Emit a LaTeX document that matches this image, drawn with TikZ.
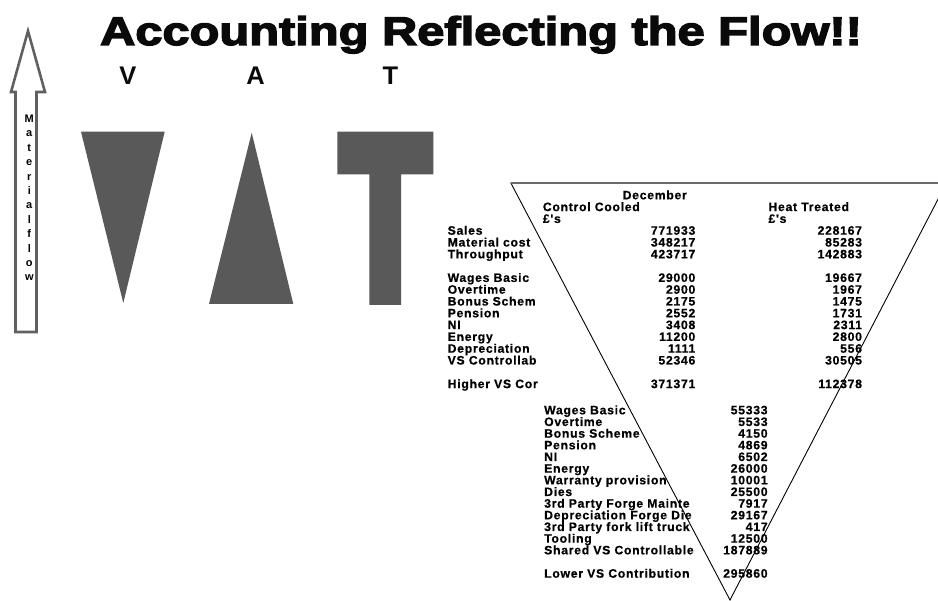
\documentclass[tikz,border=0pt]{standalone}
\usepackage{fontspec}
\setmainfont{Liberation Sans}
\newfontfamily\tabfont{Liberation Sans}[LetterSpace=6, BoldFeatures={FakeBold=0.6, LetterSpace=6}]
\newfontfamily\blackfont{Liberation Sans}[BoldFeatures={FakeBold=3.2}]
\definecolor{shade}{HTML}{595959}
\definecolor{arrowgrey}{HTML}{606060}
\definecolor{topgrey}{HTML}{6A6A6A}
\definecolor{ink}{HTML}{0A0A0A}
\tikzset{
  headline/.style={font=\blackfont\bfseries\fontsize{40}{40}\selectfont, text=ink, inner sep=0, anchor=base},
  vatletter/.style={font=\bfseries\fontsize{25.5}{25.5}\selectfont, text=ink, inner sep=0, anchor=base},
  flowletter/.style={font=\bfseries\fontsize{11}{11}\selectfont, inner sep=0, anchor=base},
  cell/.style={font=\tabfont\bfseries\fontsize{12.2}{12.2}\selectfont, inner sep=0},
  lab/.style={cell, anchor=base west},
  num/.style={cell, anchor=base east},
  solidshape/.style={fill=shade, draw=none},
  flowarrow/.style={draw=arrowgrey, line width=2.6pt, fill=white},
  funnelside/.style={draw=black, line width=0.9pt},
  funneltop/.style={draw=topgrey, line width=1.8pt}
}
\begin{document}
\begin{tikzpicture}[x=1pt, y=-1pt]
\useasboundingbox (0,0) rectangle (938,601);
\clip (0,0) rectangle (938,601);

% heading
\node[headline] (title) at (481,45) {\scalebox{1.22}[1]{Accounting Reflecting the Flow!!}};

% V A T letters
\node[vatletter] (vlab) at (128,85) {V};
\node[vatletter] (alab) at (255.5,85) {A};
\node[vatletter] (tlab) at (390.5,85) {T};

% material flow arrow
\draw[flowarrow] (15.5,332) -- (15.5,92) -- (11,92) -- (28,31) -- (45,92) -- (36.5,92) -- (36.5,332) -- cycle;
\foreach \c [count=\i from 0] in {M,a,t,e,r,i,a,l,f,l,o,w}
  \node[flowletter] (flow\i) at (29.3,{122.5+14.4*\i}) {\c};

% plant shapes
\fill[solidshape] (81,131.7) -- (164.7,131.7) -- (123.3,303) -- cycle;
\fill[solidshape] (251.7,132.7) -- (293.3,304) -- (209,304) -- cycle;
\fill[solidshape] (337.3,131.7) -- (433.3,131.7) -- (433.3,174.3) -- (401,174.3)
  -- (401,305) -- (369.3,305) -- (369.3,174.3) -- (337.3,174.3) -- cycle;

% upper table: headings
\node[lab] (dec) at (622.5,199.3) {December};
\node[lab] (cc) at (542.7,211.1) {Control Cooled};
\node[lab] (ht) at (768.3,211.1) {Heat Treated};
\node[lab] (ccu) at (542.7,222.9) {£'s};
\node[lab] (htu) at (768.3,222.9) {£'s};

% upper table: rows
\begin{scope}
  \clip (440,185) rectangle (541.7,395);
  \foreach \k/\lab in {3/Sales, 4/Material cost, 5/Throughput, 7/Wages Basic,
      8/Overtime, 9/Bonus Schem, 10/Pension, 11/NI, 12/Energy,
      13/Depreciation, 14/VS Controllab, 16/Higher VS Cor}
    \node[lab] (ul\k) at (447.5,{199.3+11.8*\k}) {\lab};
\end{scope}
\foreach \k/\a/\b in {3/771933/228167, 4/348217/85283, 5/423717/142883,
    7/29000/19667, 8/2900/1967, 9/2175/1475, 10/2552/1731, 11/3408/2311,
    12/11200/2800, 13/1111/556, 14/52346/30505, 16/371371/112378}
{
  \node[num] (ua\k) at (695.5,{199.3+11.8*\k}) {\a};
  \node[num] (ub\k) at (862.2,{199.3+11.8*\k}) {\b};
}

% lower table
\begin{scope}
  \clip (540,398) rectangle (697.5,585);
  \foreach \j/\lab in {0/Wages Basic, 1/Overtime, 2/Bonus Scheme, 3/Pension,
      4/NI, 5/Energy, 6/Warranty provision, 7/Dies, 8/3rd Party Forge Mainte,
      9/Depreciation Forge Die, 10/3rd Party fork lift truck, 11/Tooling,
      12/Shared VS Controllable, 14/Lower VS Contribution}
    \node[lab] (ll\j) at (544,{414.3+11.67*\j}) {\lab};
\end{scope}
\foreach \j/\a in {0/55333, 1/5533, 2/4150, 3/4869, 4/6502, 5/26000, 6/10001,
    7/25500, 8/7917, 9/29167, 10/417, 11/12500, 12/187889, 14/295860}
  \node[num] (lv\j) at (767.8,{414.3+11.67*\j}) {\a};

% funnel outline
\coordinate (fl) at (510.7,182.7);
\coordinate (fr) at (946.6,182.7);
\coordinate (fb) at (730,600);
\draw[funnelside] (fl) -- (fb) -- (fr);
\draw[funneltop] (fl) -- (fr);
\end{tikzpicture}
\end{document}
